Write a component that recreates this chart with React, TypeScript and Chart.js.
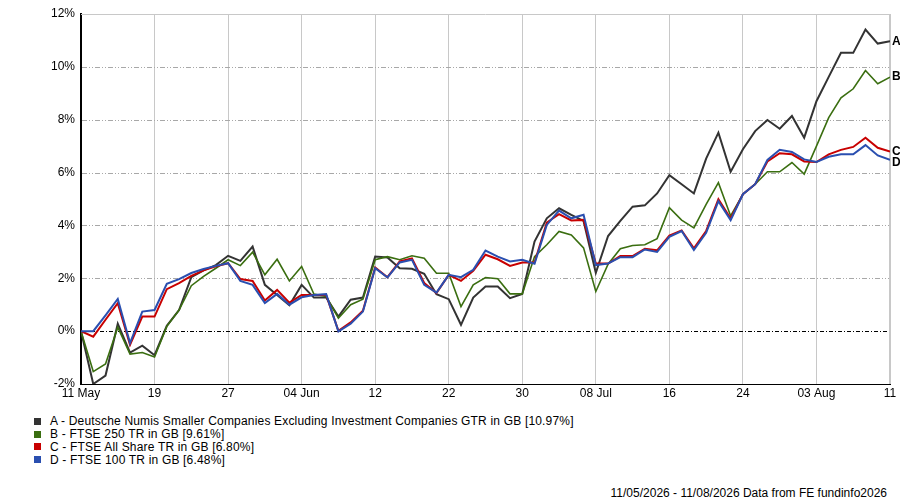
import { useEffect, useRef } from "react"
import { Chart, registerables } from "chart.js"

Chart.register(...registerables)

// x axis: one point per trading day, a label every 6th day
const tickLabels = ["11 May", "19", "27", "04 Jun", "12", "22", "30", "08 Jul", "16", "24", "03 Aug", "11"]
const yTicks = [-2, 0, 2, 4, 6, 8, 10, 12]

const seriesNames = [
  "A - Deutsche Numis Smaller Companies Excluding Investment Companies GTR in GB [10.97%]",
  "B - FTSE 250 TR in GB [9.61%]",
  "C - FTSE All Share TR in GB [6.80%]",
  "D - FTSE 100 TR in GB [6.48%]",
]
const seriesLetters = ["A", "B", "C", "D"]

const seriesA = [
  0, -2.0, -1.68, 0.28, -0.81, -0.55, -0.91, 0.2, 0.8, 2.04, 2.3, 2.5, 2.85, 2.66, 3.2, 1.75, 1.37, 0.98,
  1.75, 1.27, 1.27, 0.55, 1.19, 1.27, 2.82, 2.79, 2.38, 2.36, 2.17, 1.4, 1.21, 0.24, 1.27, 1.69, 1.69, 1.25,
  1.41, 3.39, 4.27, 4.65, 4.4, 4.17, 2.21, 3.6, 4.17, 4.71, 4.76, 5.21, 5.9, 5.56, 5.21, 6.53, 7.51, 6.03,
  6.88, 7.57, 7.99, 7.66, 8.14, 7.32, 8.7, 9.62, 10.53, 10.53, 11.41, 10.88, 10.97,
]
const seriesB = [
  0, -1.53, -1.24, 0.15, -0.87, -0.81, -0.98, 0.18, 0.8, 1.72, 2.07, 2.38, 2.7, 2.48, 2.99, 2.13, 2.72, 1.9,
  2.45, 1.4, 1.31, 0.49, 1.0, 1.21, 2.7, 2.82, 2.7, 2.85, 2.76, 2.19, 2.19, 0.93, 1.75, 2.03, 1.98, 1.41,
  1.41, 2.82, 3.27, 3.77, 3.64, 3.15, 1.5, 2.53, 3.12, 3.24, 3.27, 3.5, 4.67, 4.2, 3.91, 4.8, 5.62, 4.36,
  5.18, 5.56, 6.03, 6.03, 6.38, 5.94, 7.0, 8.08, 8.83, 9.17, 9.86, 9.36, 9.61,
]
const seriesC = [
  0, -0.21, 0.43, 1.06, -0.52, 0.55, 0.55, 1.59, 1.82, 2.09, 2.3, 2.45, 2.57, 1.97, 1.9, 1.16, 1.56, 1.08,
  1.37, 1.37, 1.37, 0.01, 0.33, 0.77, 2.41, 2.04, 2.64, 2.75, 1.82, 1.44, 2.13, 1.9, 2.28, 2.89, 2.72, 2.47,
  2.6, 2.6, 4.11, 4.43, 4.19, 4.21, 2.56, 2.56, 2.84, 2.84, 3.12, 3.06, 3.62, 3.81, 3.13, 3.79, 4.99, 4.26,
  5.18, 5.56, 6.42, 6.73, 6.69, 6.42, 6.4, 6.69, 6.86, 6.97, 7.32, 6.94, 6.8,
]
const seriesD = [
  0, 0.0, 0.6, 1.22, -0.45, 0.74, 0.8, 1.79, 1.97, 2.2, 2.35, 2.47, 2.57, 1.9, 1.75, 1.06, 1.41, 1.0,
  1.28, 1.37, 1.4, -0.01, 0.28, 0.74, 2.38, 2.03, 2.6, 2.7, 1.75, 1.46, 2.13, 2.04, 2.32, 3.05, 2.82, 2.64,
  2.7, 2.55, 4.02, 4.56, 4.27, 4.4, 2.5, 2.56, 2.8, 2.8, 3.09, 3.0, 3.57, 3.79, 3.07, 3.72, 4.92, 4.2,
  5.18, 5.56, 6.48, 6.86, 6.78, 6.5, 6.4, 6.6, 6.69, 6.69, 7.04, 6.65, 6.48,
]

const colors = ["#333333", "#3a6e10", "#c80000", "#2a4fb0"]
const FONT = "'Liberation Sans', Arial, sans-serif"

const toPoints = (arr: number[]) => arr.map((v, i) => ({ x: i, y: v }))

// dash-dot horizontal grid, grey top/right frame and the A-D letters at the line ends
const framePlugin = {
  id: "frame",
  beforeDatasetsDraw(chart: any) {
    const { ctx, chartArea, scales } = chart
    const y = scales.y
    ctx.save()
    for (const v of yTicks) {
      if (v === yTicks[0] || v === yTicks[yTicks.length - 1]) continue
      const py = Math.round(y.getPixelForValue(v)) + 0.5
      ctx.lineWidth = 1
      ctx.strokeStyle = v === 0 ? "#000000" : "#a8a8a8"
      ctx.setLineDash(v === 0 ? [4, 2, 1, 2] : [5, 2, 1, 2, 1, 2])
      ctx.beginPath()
      ctx.moveTo(chartArea.left + 1, py)
      ctx.lineTo(chartArea.right - 1, py)
      ctx.stroke()
    }
    ctx.setLineDash([])
    ctx.strokeStyle = "#c8c8c8"
    ctx.lineWidth = 1
    ctx.beginPath()
    ctx.moveTo(chartArea.left, chartArea.top + 0.5)
    ctx.lineTo(chartArea.right, chartArea.top + 0.5)
    ctx.stroke()
    ctx.lineWidth = 2
    ctx.beginPath()
    ctx.moveTo(chartArea.right, chartArea.top)
    ctx.lineTo(chartArea.right, chartArea.bottom)
    ctx.stroke()
    ctx.restore()
  },
  afterDatasetsDraw(chart: any) {
    const { ctx, chartArea } = chart
    ctx.save()
    ctx.font = "bold 12px " + FONT
    ctx.fillStyle = "#000000"
    ctx.textBaseline = "middle"
    let lastY = -100
    const ends = chart.data.datasets
      .map((_: any, i: number) => {
        const meta = chart.getDatasetMeta(i)
        const pt = meta.data[meta.data.length - 1]
        return { y: pt.y, letter: seriesLetters[i] }
      })
      .sort((a: any, b: any) => a.y - b.y)
    ends.forEach((e: any) => {
      const ly = Math.max(e.y, lastY + 11)
      ctx.fillText(e.letter, chartArea.right + 2, ly)
      lastY = ly
    })
    ctx.restore()
  },
}

export default function App() {
  const canvasRef = useRef<HTMLCanvasElement | null>(null)
  const chartRef = useRef<Chart | null>(null)

  useEffect(() => {
    document.body.style.margin = "0"
    if (!canvasRef.current) return
    const ctx = canvasRef.current.getContext("2d")
    if (!ctx) return

    if (chartRef.current) {
      chartRef.current.destroy()
    }

    const all = [seriesA, seriesB, seriesC, seriesD]

    chartRef.current = new Chart(ctx, {
      type: "line",
      data: {
        datasets: all.map((arr, i) => ({
          label: seriesNames[i],
          data: toPoints(arr),
          borderColor: colors[i],
          backgroundColor: colors[i],
          borderWidth: i === 1 ? 1.6 : 2,
          pointRadius: 0,
          tension: 0,
          // D at the bottom, A on top
          order: 4 - i,
        })),
      },
      options: {
        animation: false,
        responsive: true,
        maintainAspectRatio: false,
        layout: { padding: { top: 14, right: 10, left: 0, bottom: 0 } },
        plugins: {
          legend: { display: false },
          tooltip: { enabled: false },
        },
        scales: {
          x: {
            type: "linear",
            min: 0,
            max: (tickLabels.length - 1) * 6,
            afterFit: (s: any) => {
              s.height = 16
            },
            afterBuildTicks: (s: any) => {
              s.ticks = tickLabels.map((_, i) => ({ value: i * 6 }))
            },
            ticks: {
              autoSkip: false,
              maxRotation: 0,
              padding: 2,
              color: "#000000",
              font: { family: FONT, size: 12 },
              callback: (v: any) => tickLabels[Math.round(Number(v) / 6)] ?? "",
            },
            grid: { color: "#c8c8c8", lineWidth: 1, drawTicks: false },
            border: { display: true, color: "#000000", width: 1 },
          },
          y: {
            min: yTicks[0],
            max: yTicks[yTicks.length - 1],
            afterFit: (s: any) => {
              s.width = 81
            },
            afterBuildTicks: (s: any) => {
              s.ticks = yTicks.map((v) => ({ value: v }))
            },
            ticks: {
              padding: 6,
              color: "#000000",
              font: { family: FONT, size: 12 },
              callback: (v: any) => v + "%",
            },
            grid: { display: false, drawTicks: false },
            border: { display: true, color: "#000000", width: 2 },
          },
        },
      },
      plugins: [framePlugin],
    })

    return () => {
      if (chartRef.current) {
        chartRef.current.destroy()
        chartRef.current = null
      }
    }
  }, [])

  return (
    <div style={{ position: "relative", width: 900, height: 501, fontFamily: FONT, color: "#000" }}>
      <div style={{ position: "absolute", left: 0, top: 0, width: 900, height: 400 }}>
        <canvas ref={canvasRef}></canvas>
      </div>
      <div style={{ position: "absolute", left: 34, top: 415 }}>
        {seriesNames.map((name, i) => (
          <div key={name} style={{ display: "flex", alignItems: "center", height: 12.8, fontSize: 12, letterSpacing: 0.18, whiteSpace: "nowrap" }}>
            <span style={{ display: "inline-block", width: 7, height: 7, background: colors[i], marginRight: 9 }}></span>
            <span>{name}</span>
          </div>
        ))}
      </div>
      <div style={{ position: "absolute", right: 13, top: 486, fontSize: 12, whiteSpace: "nowrap" }}>
        11/05/2026 - 11/08/2026 Data from FE fundinfo2026
      </div>
    </div>
  )
}
